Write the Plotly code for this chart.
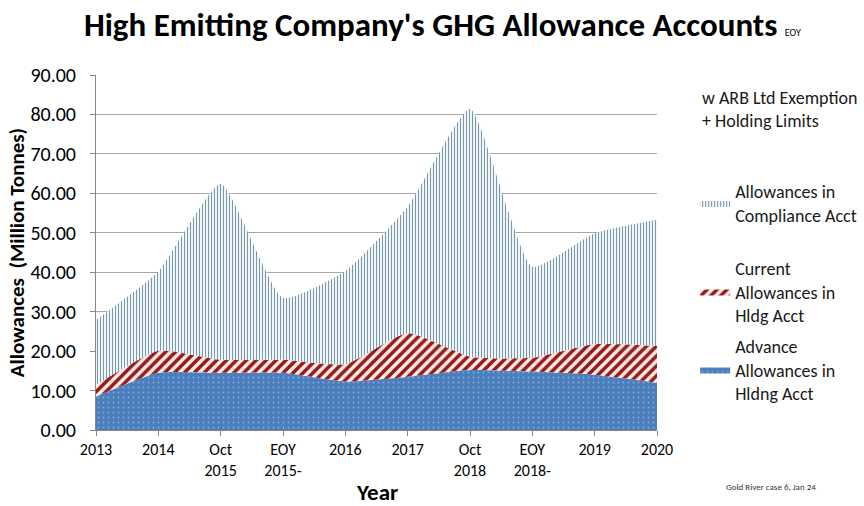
import plotly.graph_objects as go

categories = ["2013", "2014", "Oct<br>2015", "EOY<br>2015-", "2016", "2017",
              "Oct<br>2018", "EOY<br>2018-", "2019", "2020"]
advance = [8.5, 14.5, 14.5, 14.5, 12.3, 13.5, 15.2, 14.8, 14.0, 12.0]
current = [2.9, 5.6, 3.3, 3.3, 4.4, 11.1, 3.4, 3.5, 7.8, 9.3]
compliance = [16.5, 20.1, 44.6, 15.7, 23.6, 32.0, 62.8, 23.1, 28.1, 32.0]

FONT = "Carlito, Lato, sans-serif"
LEG_FONT = dict(family=FONT, size=18, color="#1a1a1a")
LINE = dict(width=0, shape="spline", smoothing=0.5)

fig = go.Figure()
fig.add_trace(go.Scatter(
    x=categories, y=advance, name="Advance<br>Allowances in<br>Hldng Acct",
    stackgroup="one", mode="lines", line=LINE,
    fillcolor="#4b7ebd", legend="legend3",
    fillpattern=dict(shape=".", fgcolor="#86a9d8", bgcolor="#4b7ebd", size=5,
                     solidity=0.1, fgopacity=1)))
fig.add_trace(go.Scatter(
    x=categories, y=current, name="Current<br>Allowances in<br>Hldg Acct",
    stackgroup="one", mode="lines", line=LINE,
    fillcolor="#fbece4", legend="legend2",
    fillpattern=dict(shape="/", fgcolor="#951a1d", bgcolor="#fbece4", size=7,
                     solidity=0.5, fgopacity=1)))
fig.add_trace(go.Scatter(
    x=categories, y=compliance, name="Allowances in<br>Compliance Acct",
    stackgroup="one", mode="lines", line=LINE,
    fillcolor="white", legend="legend",
    fillpattern=dict(shape="|", fgcolor="#7899ad", bgcolor="white", size=3,
                     solidity=0.4, fgopacity=1)))

PLOT_H = 355.0
def py(pix):
    return (430 - pix) / PLOT_H

def leg(top_pix):
    return dict(x=1.068, xanchor="left", y=py(top_pix), yanchor="top",
                font=LEG_FONT, itemwidth=30, bgcolor="rgba(0,0,0,0)")

fig.update_layout(
    width=864, height=506,
    margin=dict(l=96, r=207, t=75, b=76, autoexpand=False),
    paper_bgcolor="white", plot_bgcolor="white",
    font=dict(family=FONT, color="#000000"),
    title=dict(
        text="<b>High Emitting Company's GHG Allowance Accounts</b> <span style='font-size:10px'>EOY</span>",
        x=0.512, xanchor="center", y=0.952, yanchor="middle",
        font=dict(family=FONT, size=33, color="black")),
    showlegend=True,
    legend=leg(173),
    legend2=leg(250),
    legend3=leg(328),
    xaxis=dict(
        type="category", range=[0, 9], showgrid=False,
        showline=True, linecolor="#868686", linewidth=1,
        ticks="outside", ticklen=5, tickcolor="#868686",
        tickfont=dict(family=FONT, size=16, color="#000000")),
    yaxis=dict(
        range=[0, 90], dtick=10, tickformat=".2f",
        showgrid=True, gridcolor="#a6a6a6", gridwidth=1,
        showline=True, linecolor="#868686", linewidth=1,
        ticks="outside", ticklen=5, tickcolor="#868686", ticklabelstandoff=10,
        tickfont=dict(family=FONT, size=20, color="#000000"),
        title=dict(text="<b>Allowances  (Million Tonnes)</b>", font=dict(family=FONT, size=21), standoff=0),
        zeroline=False),
    annotations=[
        dict(text="<b>Year</b>", xref="paper", yref="paper",
             x=0.5, y=py(492), xanchor="center", yanchor="middle", showarrow=False,
             font=dict(family=FONT, size=23, color="black")),
        dict(text="w ARB Ltd Exemption<br>+ Holding Limits", xref="paper", yref="paper",
             x=1.0766, y=py(109), xanchor="left", yanchor="middle", align="left", showarrow=False,
             font=LEG_FONT),
        dict(text="Gold River case 6, Jan 24", xref="paper", yref="paper",
             x=1.119, y=py(486), xanchor="left", yanchor="middle", showarrow=False,
             font=dict(family=FONT, size=9, color="#333333")),
    ],
)

fig.write_html("out.html")
